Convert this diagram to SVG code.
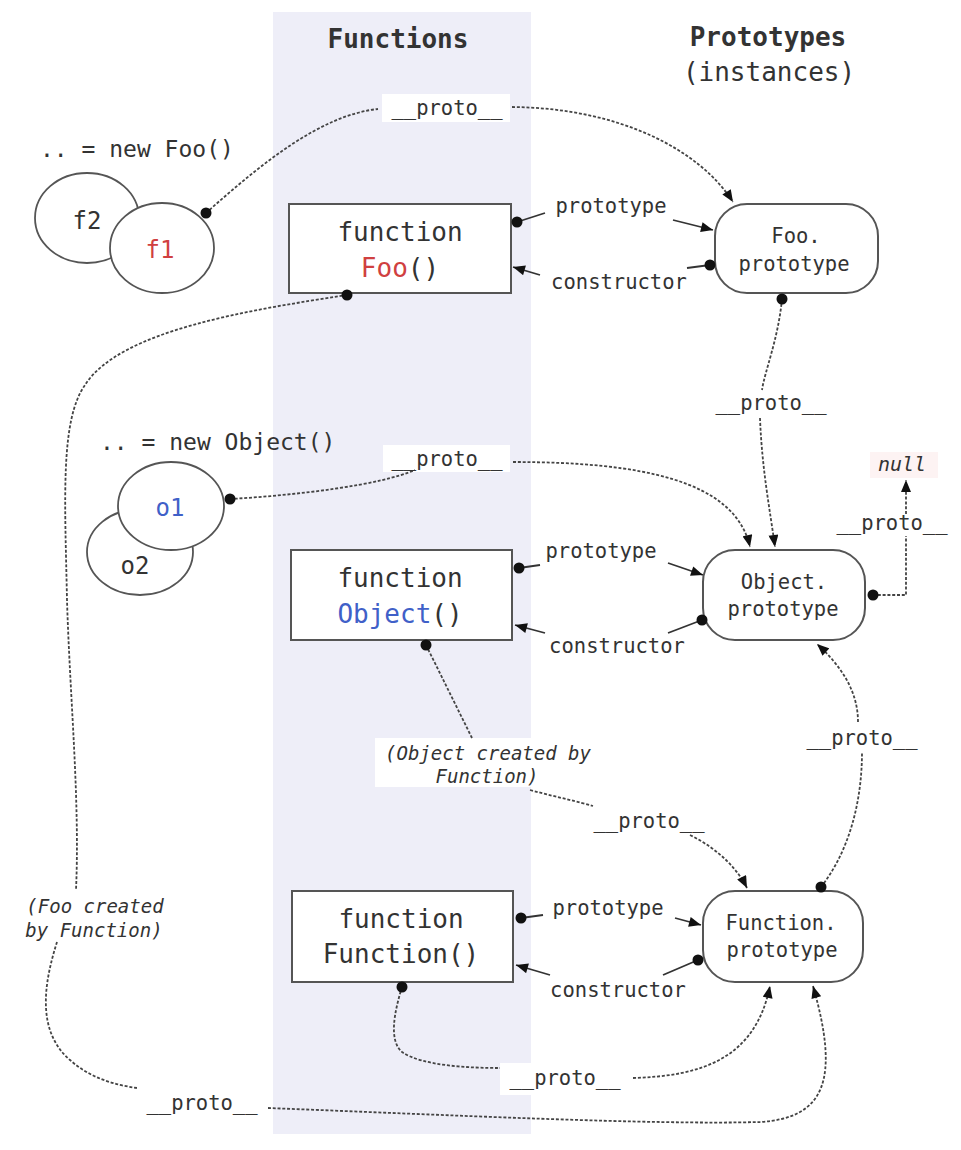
<svg xmlns="http://www.w3.org/2000/svg" width="961" height="1150" viewBox="0 0 961 1150">
<style>
text{font-family:"DejaVu Sans Mono","Liberation Mono",monospace;fill:#333}
.h{font-size:26px;font-weight:bold;text-anchor:middle}
.sub{font-size:26px;text-anchor:middle}
.fn{font-size:26px;text-anchor:middle}
.lbl{font-size:20.5px;text-anchor:middle}
.pt{font-size:20.5px;text-anchor:middle}
.it{font-size:19px;font-style:italic;text-anchor:middle}
.inst{font-size:24px;text-anchor:middle}
.new{font-size:23px}
.box{fill:#fff;stroke:#555;stroke-width:2}
.ell{fill:#fff;stroke:#555;stroke-width:1.8}
.dash{fill:none;stroke:#444;stroke-width:1.8;stroke-dasharray:3 1.8}
.solid{fill:none;stroke:#333;stroke-width:1.8}
.dot{fill:#111}
.red{fill:#d04040}
.blue{fill:#4060c8}
</style>
<defs>
<marker id="arr" viewBox="0 0 12 10" refX="12" refY="5" markerWidth="13" markerHeight="10" markerUnits="userSpaceOnUse" orient="auto">
<path d="M0,0 L12,5 L0,10 z" fill="#111"/>
</marker>
</defs>
<rect x="0" y="0" width="961" height="1150" fill="#fff"/>
<rect id="band" x="273" y="12" width="258" height="1122" fill="#eeeef8"/>

<g id="headings">
<text class="h" x="398" y="48">Functions</text>
<text class="h" x="768" y="46">Prototypes</text>
<text class="sub" x="769" y="81">(instances)</text>
</g>

<g id="label-bgs">
<rect x="382" y="94" width="128" height="28" fill="#fff"/>
<rect x="383" y="445" width="127" height="27" fill="#fff"/>
<rect x="375" y="738" width="218" height="49" fill="#fff"/>
<rect x="500" y="1063" width="127" height="32" fill="#fff"/>
<rect x="870" y="452" width="68" height="26" fill="#fdf3f3"/>
</g>

<g id="connectors">
<!-- f1 -> Foo.prototype -->
<path class="dash" d="M206,213 C260,165 320,115 378,109"/>
<path class="dash" d="M512,107 C620,108 700,150 733,202" marker-end="url(#arr)"/>
<text class="lbl" x="447" y="115">__proto__</text>
<!-- o1 -> Object.prototype -->
<path class="dash" d="M230,499 C300,495 380,485 415,470"/>
<path class="dash" d="M513,462 C640,462 735,480 750,547" marker-end="url(#arr)"/>
<text class="lbl" x="447" y="466">__proto__</text>
<!-- Foo.prototype -> Object.prototype -->
<path class="dash" d="M782,299 C778,340 765,370 762,390"/>
<path class="dash" d="M760,418 C762,470 770,510 775,547" marker-end="url(#arr)"/>
<text class="lbl" x="771" y="410">__proto__</text>
<!-- Object.prototype -> null -->
<path class="dash" d="M873,595 L906,595 L906,536"/>
<path class="dash" d="M906,514 L906,480" marker-end="url(#arr)"/>
<text class="lbl" x="892" y="530">__proto__</text>
<text x="902" y="471" style="font-size:20px;font-style:italic;text-anchor:middle">null</text>
<!-- Function.prototype -> Object.prototype -->
<path class="dash" d="M821,887 C850,850 862,800 862,752"/>
<path class="dash" d="M858,722 C858,690 840,665 817,644" marker-end="url(#arr)"/>
<text class="lbl" x="862" y="745">__proto__</text>
<!-- Object() -> Function.prototype -->
<path class="dash" d="M426,645 L472,738"/>
<path class="dash" d="M530,790 C560,798 580,802 593,806"/>
<path class="dash" d="M690,835 C720,850 738,870 747,888" marker-end="url(#arr)"/>
<text class="it" x="488" y="760">(Object created by</text>
<text class="it" x="487" y="783">Function)</text>
<text class="lbl" x="649" y="828">__proto__</text>
<!-- Function() -> Function.prototype -->
<path class="dash" d="M402,987 C395,1010 388,1040 402,1052 C422,1066 470,1068 500,1068"/>
<path class="dash" d="M633,1078 C700,1076 755,1060 770,986" marker-end="url(#arr)"/>
<text class="lbl" x="565" y="1085">__proto__</text>
<!-- Foo() -> Function.prototype -->
<path class="dash" d="M347,295 C250,310 120,330 85,385 C60,420 65,500 67,600 C70,700 80,800 76,890"/>
<path class="dash" d="M57,942 C45,980 35,1030 70,1060 C90,1078 115,1085 137,1088"/>
<path class="dash" d="M268,1108 C450,1115 650,1125 760,1122 C825,1118 840,1080 813,986" marker-end="url(#arr)"/>
<text class="it" x="95" y="913">(Foo created</text>
<text class="it" x="94" y="937">by Function)</text>
<text class="lbl" x="202" y="1110">__proto__</text>
<!-- prototype / constructor: Foo -->
<path class="solid" d="M517,222 L545,213"/>
<path class="solid" d="M673,220 L713,230" marker-end="url(#arr)"/>
<text class="lbl" x="611" y="213">prototype</text>
<path class="solid" d="M710,265 L687,268"/>
<path class="solid" d="M540,275 L513,267" marker-end="url(#arr)"/>
<text class="lbl" x="619" y="289">constructor</text>
<!-- prototype / constructor: Object -->
<path class="solid" d="M519,568 L540,565"/>
<path class="solid" d="M668,563 L703,575" marker-end="url(#arr)"/>
<text class="lbl" x="601" y="558">prototype</text>
<path class="solid" d="M702,620 L668,633"/>
<path class="solid" d="M545,633 L515,625" marker-end="url(#arr)"/>
<text class="lbl" x="617" y="653">constructor</text>
<!-- prototype / constructor: Function -->
<path class="solid" d="M521,918 L543,915"/>
<path class="solid" d="M675,918 L701,925" marker-end="url(#arr)"/>
<text class="lbl" x="608" y="915">prototype</text>
<path class="solid" d="M698,960 L663,975"/>
<path class="solid" d="M550,975 L516,965" marker-end="url(#arr)"/>
<text class="lbl" x="618" y="997">constructor</text>
</g>

<g id="new-foo">
<text class="new" x="40" y="157">.. = new Foo()</text>
</g>
<g id="f2">
<ellipse class="ell" cx="87" cy="218" rx="52" ry="45"/>
<text class="inst" x="87" y="229">f2</text>
</g>
<g id="f1">
<ellipse class="ell" cx="162" cy="248" rx="52" ry="45"/>
<text class="inst red" x="160" y="258">f1</text>
</g>

<g id="new-object">
<text class="new" x="100" y="450">.. = new Object()</text>
</g>
<g id="o2">
<ellipse class="ell" cx="140" cy="552" rx="53" ry="43"/>
<text class="inst" x="135" y="574">o2</text>
</g>
<g id="o1">
<ellipse class="ell" cx="171" cy="506" rx="53" ry="44"/>
<text class="inst blue" x="170" y="516">o1</text>
</g>

<g id="Foo">
<rect class="box" x="289" y="204" width="222" height="89"/>
<text class="fn" x="400" y="241">function</text>
<text class="fn" x="400" y="277"><tspan class="red">Foo</tspan>()</text>
</g>
<g id="Object">
<rect class="box" x="291" y="550" width="221" height="90"/>
<text class="fn" x="400" y="587">function</text>
<text class="fn" x="400" y="623"><tspan class="blue">Object</tspan>()</text>
</g>
<g id="Function">
<rect class="box" x="292" y="891" width="221" height="91"/>
<text class="fn" x="401" y="928">function</text>
<text class="fn" x="401" y="963">Function()</text>
</g>

<g id="Foo.prototype">
<rect class="box" x="715" y="204" width="163" height="89" rx="32" ry="32"/>
<text class="pt" x="796" y="243">Foo.</text>
<text class="pt" x="794" y="271">prototype</text>
</g>
<g id="Object.prototype">
<rect class="box" x="703" y="550" width="162" height="90" rx="32" ry="32"/>
<text class="pt" x="784" y="589">Object.</text>
<text class="pt" x="783" y="616">prototype</text>
</g>
<g id="Function.prototype">
<rect class="box" x="703" y="891" width="160" height="91" rx="32" ry="32"/>
<text class="pt" x="781" y="930">Function.</text>
<text class="pt" x="782" y="957">prototype</text>
</g>

<g id="dots">
<circle class="dot" cx="206" cy="213" r="5.5"/>
<circle class="dot" cx="230" cy="499" r="5.5"/>
<circle class="dot" cx="347" cy="295" r="5.5"/>
<circle class="dot" cx="517" cy="222" r="5.5"/>
<circle class="dot" cx="710" cy="265" r="5.5"/>
<circle class="dot" cx="782" cy="299" r="5.5"/>
<circle class="dot" cx="519" cy="568" r="5.5"/>
<circle class="dot" cx="702" cy="620" r="5.5"/>
<circle class="dot" cx="873" cy="595" r="5.5"/>
<circle class="dot" cx="426" cy="645" r="5.5"/>
<circle class="dot" cx="521" cy="918" r="5.5"/>
<circle class="dot" cx="698" cy="960" r="5.5"/>
<circle class="dot" cx="821" cy="887" r="5.5"/>
<circle class="dot" cx="402" cy="987" r="5.5"/>
</g>
</svg>
